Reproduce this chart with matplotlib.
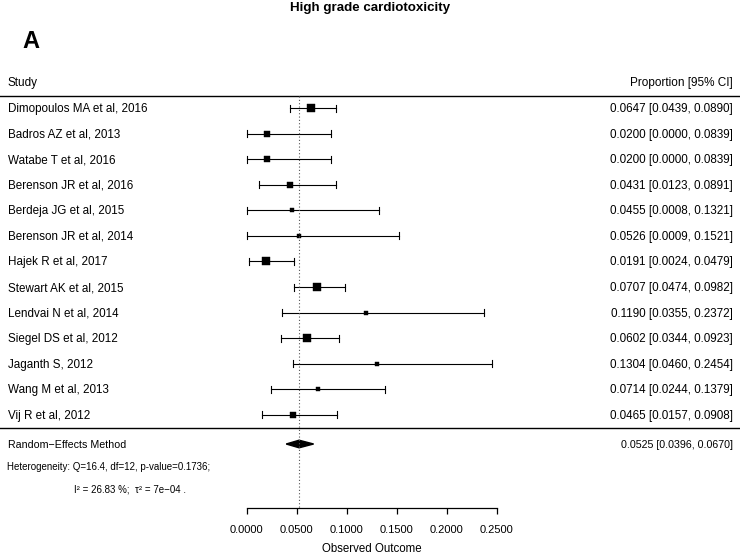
import matplotlib
matplotlib.use("Agg")
import matplotlib.pyplot as plt
from matplotlib.patches import Polygon

plt.rcParams['font.family'] = ['Liberation Sans', 'DejaVu Sans']

studies = ["Dimopoulos MA et al, 2016", "Badros AZ et al, 2013", "Watabe T et al, 2016",
           "Berenson JR et al, 2016", "Berdeja JG et al, 2015", "Berenson JR et al, 2014",
           "Hajek R et al, 2017", "Stewart AK et al, 2015", "Lendvai N et al, 2014",
           "Siegel DS et al, 2012", "Jaganth S, 2012", "Wang M et al, 2013", "Vij R et al, 2012"]
est = [0.0647, 0.0200, 0.0200, 0.0431, 0.0455, 0.0526, 0.0191, 0.0707, 0.1190, 0.0602, 0.1304, 0.0714, 0.0465]
lo = [0.0439, 0.0000, 0.0000, 0.0123, 0.0008, 0.0009, 0.0024, 0.0474, 0.0355, 0.0344, 0.0460, 0.0244, 0.0157]
hi = [0.0890, 0.0839, 0.0839, 0.0891, 0.1321, 0.1521, 0.0479, 0.0982, 0.2372, 0.0923, 0.2454, 0.1379, 0.0908]
weights = [8.0, 4.8, 4.8, 5.2, 3.4, 3.0, 8.0, 7.0, 2.8, 6.5, 2.8, 4.0, 5.2]
re_est, re_lo, re_hi = 0.0525, 0.0396, 0.0670
het_text = "Heterogeneity: Q=16.4, df=12, p-value=0.1736;"
i2_text = "I² = 26.83 %;  τ² = 7e−04 ."
xticks = [0.0, 0.05, 0.10, 0.15, 0.20, 0.25]

W, H = 740, 554
fig = plt.figure(figsize=(W / 100, H / 100), dpi=100)
ax = fig.add_axes([0, 0, 1, 1])
x0px = 246.5
ppu = 1002.0  # pixels per outcome unit
ax.set_xlim(-x0px / ppu, (W - x0px) / ppu)
ax.set_ylim(H, 0)
for s in ['top', 'left', 'right']:
    ax.spines[s].set_visible(False)
ax.set_yticks([])

def px(p):
    return (p - x0px) / ppu

xl, xr = ax.get_xlim()
row0, step = 108.0, 25.58
fs = 8.35
cap = 3.5
toff = 1.0

ax.text(0.5, 1 - 8 / H, "High grade cardiotoxicity", transform=ax.transAxes,
        ha='center', va='center', fontsize=9.6, fontweight='bold')
ax.text(px(22), 42, "A", ha='left', va='center', fontsize=17, fontweight='bold')
ax.text(px(8), 83, "Study", ha='left', va='center', fontsize=8.5)
ax.text(px(733), 83, "Proportion [95% CI]", ha='right', va='center', fontsize=8.5)
ax.plot([xl, xr], [95.5, 95.5], color='black', lw=1.0)

for i, name in enumerate(studies):
    y = row0 + i * step
    ax.text(px(8), y + toff, name, ha='left', va='center', fontsize=fs)
    ax.text(px(733), y + toff, f"{est[i]:.4f} [{lo[i]:.4f}, {hi[i]:.4f}]", ha='right', va='center', fontsize=fs)
    ax.plot([lo[i], hi[i]], [y, y], color='black', lw=0.8)
    ax.plot([lo[i], lo[i]], [y - cap, y + cap], color='black', lw=0.8)
    ax.plot([hi[i], hi[i]], [y - cap, y + cap], color='black', lw=0.8)
    ax.plot([est[i]], [y], marker='s', color='black', markersize=weights[i] * 0.78, mec='black', mew=0.3)

ysep = row0 + (len(studies) - 1) * step + 13
ax.plot([xl, xr], [ysep, ysep], color='black', lw=1.0)

yre = 444
ax.text(px(8), yre + toff, "Random−Effects Method", ha='left', va='center', fontsize=7.7)
ax.text(px(733), yre + toff, f"{re_est:.4f} [{re_lo:.4f}, {re_hi:.4f}]", ha='right', va='center', fontsize=7.7)
ax.add_patch(Polygon([[re_lo, yre], [re_est, yre - 3.8], [re_hi, yre], [re_est, yre + 3.8]],
                     closed=True, color='black'))
ax.text(px(7), 467, het_text, ha='left', va='center', fontsize=7.0)
ax.text(px(74), 489, i2_text, ha='left', va='center', fontsize=7.0)

ax.plot([re_est, re_est], [96, 508], color='#555555', lw=0.8, ls=(0, (1, 2)))

ax.spines['bottom'].set_position(('data', 508))
ax.spines['bottom'].set_bounds(xticks[0], xticks[-1])
ax.spines['bottom'].set_linewidth(0.9)
ax.set_xticks(xticks)
ax.set_xticklabels([f"{t:.4f}" for t in xticks], fontsize=8.0)
ax.tick_params(axis='x', direction='out', length=4.5, width=0.9, pad=8)
ax.text((xticks[0] + xticks[-1]) / 2, 549, "Observed Outcome", ha='center', va='center', fontsize=8.3)

fig.savefig("out.png", dpi=100)
